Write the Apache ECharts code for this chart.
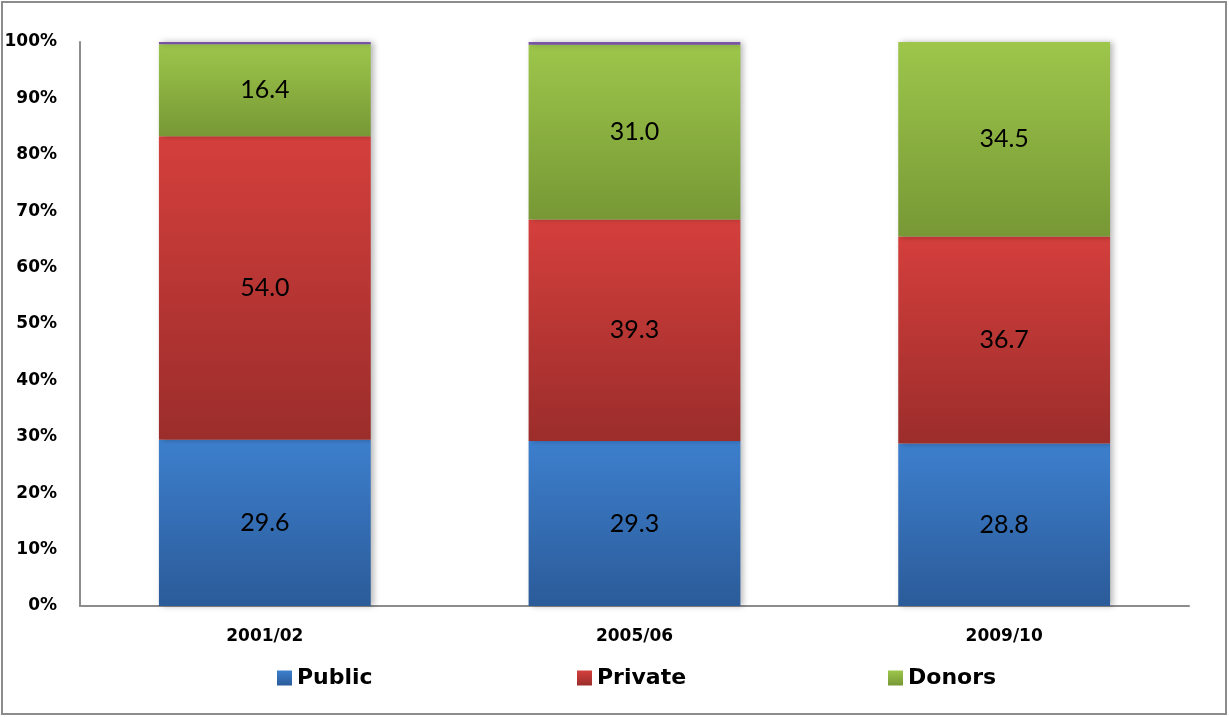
<!DOCTYPE html>
<html>
<head>
<meta charset="utf-8">
<script src="https://cdn.jsdelivr.net/npm/echarts@6/dist/echarts.min.js"></script>
<style>
  html, body { margin: 0; padding: 0; background: #fff; }
  #chart { width: 1229px; height: 717px; }
</style>
</head>
<body>
<div id="chart"></div>
<script>
// Funding shares by source (percent of total)
const years = ['2001/02', '2005/06', '2009/10'];
const publicShare = [29.6, 29.3, 28.8];
const privateShare = [54.0, 39.3, 36.7];
const donorShare = [16.4, 31.0, 34.5];
const otherShare = [0.4, 0.5, 0.0];
const yTicks = [0, 10, 20, 30, 40, 50, 60, 70, 80, 90, 100];

// Normalise each year so the stack fills 100%
const totals = years.map((_, i) => publicShare[i] + privateShare[i] + donorShare[i] + otherShare[i]);
const toPct = arr => arr.map((v, i) => ({ value: v / totals[i] * 100, raw: v }));

function grad(top, bottom) {
  return new echarts.graphic.LinearGradient(0, 0, 0, 1, [
    { offset: 0, color: top },
    { offset: 1, color: bottom }
  ]);
}

const valueLabel = {
  show: true,
  position: 'inside',
  color: '#000',
  fontFamily: 'Lato',
  fontSize: 25,
  formatter: p => p.data.raw.toFixed(1)
};

const barShadow = {
  shadowColor: 'rgba(0,0,0,0.28)',
  shadowBlur: 6,
  shadowOffsetX: 3
};

function segment(name, data, top, bottom, label) {
  return {
    name: name,
    type: 'bar',
    stack: 'total',
    barWidth: '57.3%',
    data: toPct(data),
    itemStyle: Object.assign({ color: grad(top, bottom) }, barShadow),
    label: label ? valueLabel : { show: false },
    emphasis: { disabled: true }
  };
}

const legendText = {
  fontFamily: 'DejaVu Sans',
  fontWeight: 'bold',
  fontSize: 22,
  color: '#000'
};
function legendAt(name, left) {
  return {
    data: [name],
    left: left,
    top: 662,
    itemWidth: 15,
    itemHeight: 15,
    itemGap: 8,
    icon: 'rect',
    textStyle: legendText,
    selectedMode: false
  };
}

const chart = echarts.init(document.getElementById('chart'));
chart.setOption({
  backgroundColor: '#fff',
  animation: false,
  graphic: [{
    type: 'rect',
    shape: { x: 2, y: 2, width: 1224, height: 712 },
    style: { fill: 'none', stroke: '#8c8c8c', lineWidth: 2 },
    silent: true
  }],
  legend: [
    legendAt('Public', 272),
    legendAt('Private', 572),
    legendAt('Donors', 883)
  ],
  grid: { left: 80, right: 40, top: 42, bottom: 111 },
  xAxis: {
    type: 'category',
    data: years,
    axisLine: { show: true, lineStyle: { color: '#8c8c8c', width: 2 } },
    axisTick: { show: false },
    axisLabel: {
      margin: 22,
      fontFamily: 'DejaVu Sans',
      fontWeight: 'bold',
      fontSize: 17,
      color: '#000'
    }
  },
  yAxis: {
    type: 'value',
    min: yTicks[0],
    max: yTicks[yTicks.length - 1],
    interval: 10,
    splitLine: { show: false },
    axisLine: { show: true, lineStyle: { color: '#8c8c8c', width: 2 } },
    axisTick: { show: false },
    axisLabel: {
      margin: 23,
      formatter: '{value}%',
      fontFamily: 'DejaVu Sans',
      fontWeight: 'bold',
      fontSize: 17,
      color: '#000'
    }
  },
  series: [
    segment('Public', publicShare, '#3d7fcd', '#2b5b99', true),
    segment('Private', privateShare, '#d43f3c', '#9b2d2b', true),
    segment('Donors', donorShare, '#9dc64b', '#779835', true),
    segment('Other', otherShare, '#7e5aa8', '#6f4c98', false)
  ]
});
</script>
</body>
</html>
